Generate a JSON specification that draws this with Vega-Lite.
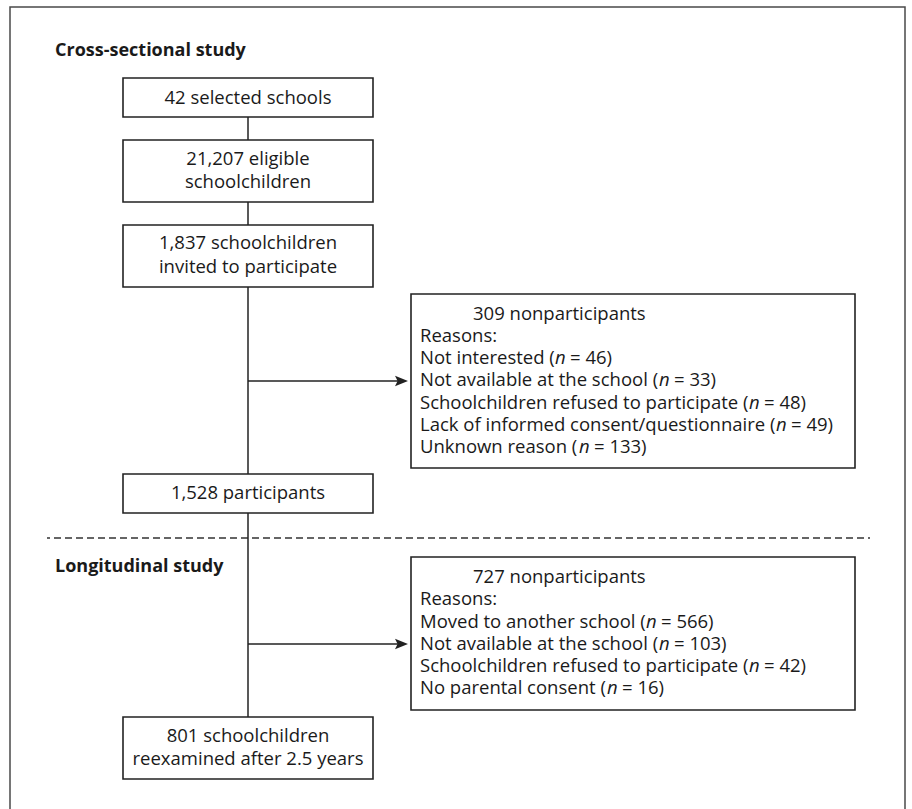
{
  "$schema": "https://vega.github.io/schema/vega-lite/v6.json",
  "width": 912,
  "height": 809,
  "autosize": {"type": "none"},
  "padding": 0,
  "background": "white",
  "config": {
    "view": {"stroke": null},
    "axis": {"disable": true},
    "text": {"font": "Open Sans", "fontSize": 18.5, "color": "#1a1a1a", "baseline": "middle"}
  },
  "datasets": {
    "frame": [{"x": 10, "x2": 905, "y": 7, "y2": 830}],
    "divider": [{"x": 47, "x2": 870, "y": 538, "y2": 538}],
    "boxes": [
      {"id": "selected", "x": 123, "x2": 373, "y": 78, "y2": 117},
      {"id": "eligible", "x": 123, "x2": 373, "y": 140, "y2": 202},
      {"id": "invited", "x": 123, "x2": 373, "y": 225, "y2": 287},
      {"id": "participants", "x": 123, "x2": 373, "y": 474, "y2": 513},
      {"id": "reexamined", "x": 123, "x2": 373, "y": 717, "y2": 779},
      {"id": "nonpart1", "x": 411, "x2": 855, "y": 294, "y2": 468},
      {"id": "nonpart2", "x": 411, "x2": 855, "y": 557, "y2": 710}
    ],
    "links": [
      {"x": 248, "x2": 248, "y": 117, "y2": 140},
      {"x": 248, "x2": 248, "y": 202, "y2": 225},
      {"x": 248, "x2": 248, "y": 287, "y2": 474},
      {"x": 248, "x2": 248, "y": 513, "y2": 717},
      {"x": 248, "x2": 400, "y": 381, "y2": 381},
      {"x": 248, "x2": 400, "y": 644, "y2": 644}
    ],
    "arrowheads": [
      {"x": 408, "y": 381},
      {"x": 408, "y": 644}
    ],
    "headings": [
      {"text": "Cross-sectional study", "x": 55, "y": 51},
      {"text": "Longitudinal study", "x": 55, "y": 567}
    ],
    "boxlabels": [
      {"text": "42 selected schools", "x": 248, "y": 98},
      {"text": "21,207 eligible", "x": 248, "y": 159},
      {"text": "schoolchildren", "x": 248, "y": 182},
      {"text": "1,837 schoolchildren", "x": 248, "y": 243},
      {"text": "invited to participate", "x": 248, "y": 267},
      {"text": "1,528 participants", "x": 248, "y": 493},
      {"text": "801 schoolchildren", "x": 248, "y": 736},
      {"text": "reexamined after 2.5 years", "x": 248, "y": 759}
    ],
    "sidelabels": [
      {"text": "309 nonparticipants", "x": 473, "y": 313.5},
      {"text": "Reasons:", "x": 420, "y": 336},
      {"text": "727 nonparticipants", "x": 473, "y": 577},
      {"text": "Reasons:", "x": 420, "y": 599}
    ],
    "reasons": [
      {"pre": "Not interested (", "n": "n", "post": "= 46)", "x": 420, "xn": 555, "y": 358},
      {"pre": "Not available at the school (", "n": "n", "post": "= 33)", "x": 420, "xn": 659, "y": 380},
      {"pre": "Schoolchildren refused to participate (", "n": "n", "post": "= 48)", "x": 420, "xn": 749, "y": 402.5},
      {"pre": "Lack of informed consent/questionnaire (", "n": "n", "post": "= 49)", "x": 420, "xn": 776, "y": 425},
      {"pre": "Unknown reason (", "n": "n", "post": "= 133)", "x": 420, "xn": 579, "y": 447},
      {"pre": "Moved to another school (", "n": "n", "post": "= 566)", "x": 420, "xn": 646, "y": 622},
      {"pre": "Not available at the school (", "n": "n", "post": "= 103)", "x": 420, "xn": 659, "y": 644},
      {"pre": "Schoolchildren refused to participate (", "n": "n", "post": "= 42)", "x": 420, "xn": 749, "y": 666},
      {"pre": "No parental consent (", "n": "n", "post": "= 16)", "x": 420, "xn": 607, "y": 688}
    ]
  },
  "layer": [
    {
      "data": {"name": "frame"},
      "mark": {"type": "rect", "fill": null, "stroke": "#4a4a4a", "strokeWidth": 1.5},
      "encoding": {
        "x": {"field": "x", "type": "quantitative", "scale": {"domain": [0, 912], "nice": false, "zero": false}},
        "x2": {"field": "x2"},
        "y": {"field": "y", "type": "quantitative", "scale": {"domain": [0, 809], "nice": false, "zero": false, "reverse": true}},
        "y2": {"field": "y2"}
      }
    },
    {
      "data": {"name": "divider"},
      "mark": {"type": "rule", "stroke": "#333", "strokeWidth": 1.5, "strokeDash": [7, 4], "strokeDashOffset": 4},
      "encoding": {
        "x": {"field": "x", "type": "quantitative"},
        "x2": {"field": "x2"},
        "y": {"field": "y", "type": "quantitative"},
        "y2": {"field": "y2"}
      }
    },
    {
      "data": {"name": "links"},
      "mark": {"type": "rule", "stroke": "#222", "strokeWidth": 1.5},
      "encoding": {
        "x": {"field": "x", "type": "quantitative"},
        "x2": {"field": "x2"},
        "y": {"field": "y", "type": "quantitative"},
        "y2": {"field": "y2"}
      }
    },
    {
      "data": {"name": "arrowheads"},
      "mark": {"type": "point", "shape": "M0,0L-2,-0.8L-1.6,0L-2,0.8Z", "size": 169, "filled": true, "color": "#222", "opacity": 1},
      "encoding": {
        "x": {"field": "x", "type": "quantitative"},
        "y": {"field": "y", "type": "quantitative"}
      }
    },
    {
      "data": {"name": "boxes"},
      "mark": {"type": "rect", "fill": "white", "stroke": "#222", "strokeWidth": 1.6},
      "encoding": {
        "x": {"field": "x", "type": "quantitative"},
        "x2": {"field": "x2"},
        "y": {"field": "y", "type": "quantitative"},
        "y2": {"field": "y2"}
      }
    },
    {
      "data": {"name": "headings"},
      "mark": {"type": "text", "align": "left", "fontWeight": "bold", "fontSize": 18},
      "encoding": {
        "x": {"field": "x", "type": "quantitative"},
        "y": {"field": "y", "type": "quantitative"},
        "text": {"field": "text"}
      }
    },
    {
      "data": {"name": "boxlabels"},
      "mark": {"type": "text", "align": "center"},
      "encoding": {
        "x": {"field": "x", "type": "quantitative"},
        "y": {"field": "y", "type": "quantitative"},
        "text": {"field": "text"}
      }
    },
    {
      "data": {"name": "sidelabels"},
      "mark": {"type": "text", "align": "left"},
      "encoding": {
        "x": {"field": "x", "type": "quantitative"},
        "y": {"field": "y", "type": "quantitative"},
        "text": {"field": "text"}
      }
    },
    {
      "data": {"name": "reasons"},
      "mark": {"type": "text", "align": "left"},
      "encoding": {
        "x": {"field": "x", "type": "quantitative"},
        "y": {"field": "y", "type": "quantitative"},
        "text": {"field": "pre"}
      }
    },
    {
      "data": {"name": "reasons"},
      "mark": {"type": "text", "align": "left", "fontStyle": "italic"},
      "encoding": {
        "x": {"field": "xn", "type": "quantitative"},
        "y": {"field": "y", "type": "quantitative"},
        "text": {"field": "n"}
      }
    },
    {
      "data": {"name": "reasons"},
      "mark": {"type": "text", "align": "left", "dx": 15},
      "encoding": {
        "x": {"field": "xn", "type": "quantitative"},
        "y": {"field": "y", "type": "quantitative"},
        "text": {"field": "post"}
      }
    }
  ]
}
